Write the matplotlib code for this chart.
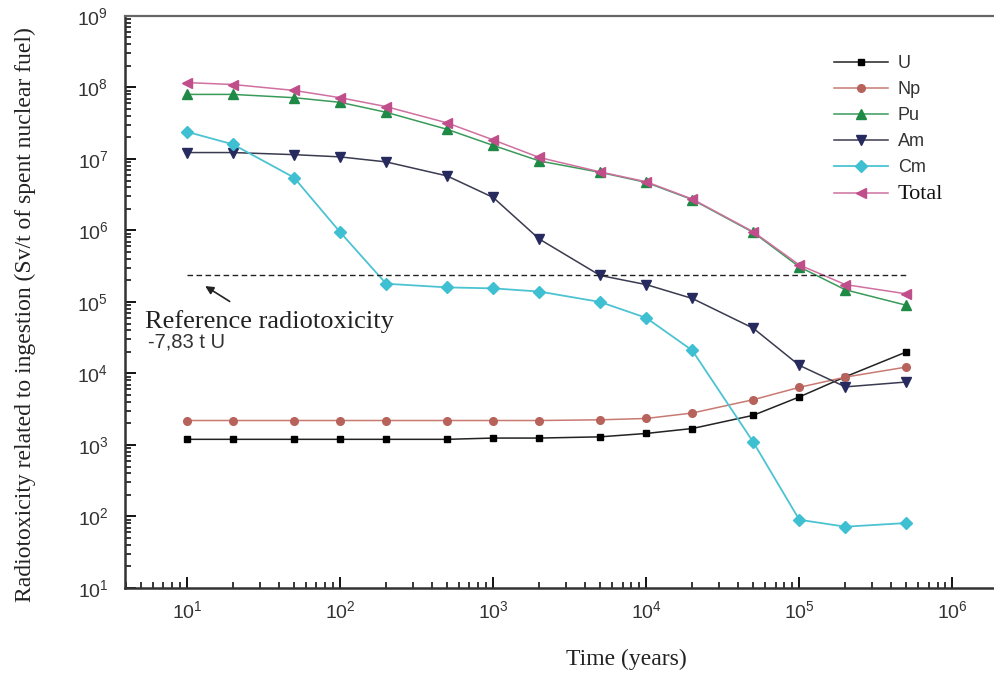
import numpy as np
import matplotlib
matplotlib.use("Agg")
import matplotlib.pyplot as plt
from matplotlib.ticker import LogLocator, NullFormatter

plt.rcParams['font.family'] = ['Liberation Sans', 'DejaVu Sans']
plt.rcParams['mathtext.default'] = 'regular'

# ---- data ----
time_years = [10, 20, 50, 100, 200, 500, 1e3, 2e3, 5e3, 1e4, 2e4, 5e4, 1e5, 2e5, 5e5]
u_vals = [1.2e3, 1.2e3, 1.2e3, 1.2e3, 1.2e3, 1.2e3, 1.25e3, 1.25e3, 1.3e3, 1.45e3, 1.7e3, 2.6e3, 4.7e3, 9.0e3, 2.0e4]
np_vals = [2.2e3, 2.2e3, 2.2e3, 2.2e3, 2.2e3, 2.2e3, 2.2e3, 2.2e3, 2.25e3, 2.35e3, 2.8e3, 4.3e3, 6.4e3, 8.9e3, 1.23e4]
pu_vals = [8.0e7, 8.0e7, 7.2e7, 6.2e7, 4.5e7, 2.6e7, 1.55e7, 9.4e6, 6.5e6, 4.7e6, 2.7e6, 9.4e5, 3.1e5, 1.48e5, 9.0e4]
am_vals = [1.23e7, 1.23e7, 1.15e7, 1.07e7, 9.1e6, 5.8e6, 2.9e6, 7.6e5, 2.35e5, 1.75e5, 1.12e5, 4.3e4, 1.3e4, 6.5e3, 7.6e3]
cm_vals = [2.4e7, 1.6e7, 5.5e6, 9.5e5, 1.8e5, 1.6e5, 1.55e5, 1.4e5, 1.0e5, 6.0e4, 2.1e4, 1.1e3, 90, 72, 81]
total_vals = [1.17e8, 1.1e8, 9.1e7, 7.2e7, 5.4e7, 3.2e7, 1.85e7, 1.05e7, 6.6e6, 4.8e6, 2.75e6, 9.6e5, 3.3e5, 1.75e5, 1.3e5]

ref_level = 2.35e5
ref_span = [10, 5e5]

fig = plt.figure(figsize=(9.94, 6.74), dpi=100)
ax = fig.add_axes([0.1258, 0.1276, 0.8742, 0.8487])

ax.plot(time_years, u_vals, color="#222222", lw=1.1, marker="s", ms=5, mfc="black", mec="black", label="U")
ax.plot(time_years, np_vals, color="#c87a72", lw=1.1, marker="o", ms=5.5, mfc="#b8625c", mec="#b8625c", label="Np")
ax.plot(time_years, pu_vals, color="#3a9a5a", lw=1.1, marker="^", ms=7, mfc="#1f8a45", mec="#1f8a45", label="Pu")
ax.plot(time_years, am_vals, color="#3a3a50", lw=1.1, marker="v", ms=7.5, mfc="#262a5e", mec="#262a5e", label="Am")
ax.plot(time_years, cm_vals, color="#4cc3d2", lw=1.3, marker="D", ms=6.5, mfc="#3fc0d2", mec="#3fc0d2", label="Cm")
ax.plot(time_years, total_vals, color="#d070a0", lw=1.1, marker="<", ms=7.5, mfc="#c04e8a", mec="#c04e8a", label="Total")

ax.plot(ref_span, [ref_level, ref_level], color="#222222", lw=1.0, ls=(0, (4, 2.5)))

ax.annotate("", xy=(12.7, 1.75e5), xytext=(19.7, 9.7e4),
            arrowprops=dict(arrowstyle="-|>", color="#222222", lw=1.2, mutation_scale=12))
ax.text(0.023, 0.465, "Reference radiotoxicity", transform=ax.transAxes,
        fontsize=19, family="Liberation Serif", color="#222222", va="center")
ax.text(0.026, 0.43, "-7,83 t U", transform=ax.transAxes,
        fontsize=14.5, color="#333333", va="center")

ax.set_xscale("log")
ax.set_yscale("log")
ax.set_xlim(3.94, 1.87e6)
ax.set_ylim(10, 1e9)

ax.xaxis.set_major_locator(LogLocator(base=10, numticks=10))
ax.xaxis.set_minor_locator(LogLocator(base=10, subs=np.arange(2, 10), numticks=10))
ax.yaxis.set_major_locator(LogLocator(base=10, numticks=12))
ax.yaxis.set_minor_locator(LogLocator(base=10, subs=np.arange(2, 10), numticks=12))
ax.xaxis.set_minor_formatter(NullFormatter())
ax.yaxis.set_minor_formatter(NullFormatter())

ax.tick_params(axis="both", which="major", direction="in", length=8, width=1.3, labelsize=14, labelcolor="#333333")
ax.tick_params(axis="both", which="minor", direction="in", length=4.5, width=1.1)
ax.tick_params(axis="y", which="major", pad=12)
ax.tick_params(axis="x", which="major", pad=9)

ax.spines["right"].set_visible(False)
for s in ["left", "bottom"]:
    ax.spines[s].set_linewidth(1.8)
    ax.spines[s].set_color("#333333")
ax.spines["top"].set_linewidth(1.6)
ax.spines["top"].set_color("#666666")

ax.set_xlabel("Time (years)", fontsize=17, family="Liberation Serif", color="#222222")
ax.xaxis.set_label_coords(0.577, -0.107)
ax.set_ylabel("Radiotoxicity related to ingestion (Sv/t of spent nuclear fuel)", fontsize=17,
              family="Liberation Serif", color="#222222")
ax.yaxis.set_label_coords(-0.102, 0.478)

leg = ax.legend(loc="upper left", bbox_to_anchor=(0.797, 0.96), frameon=False, fontsize=13,
                handlelength=3.0, handletextpad=0.55, labelspacing=0.5, numpoints=1)
for txt in leg.get_texts():
    txt.set_color("#333333")
leg.get_texts()[-1].set_family("Liberation Serif")
leg.get_texts()[-1].set_fontsize(16)
leg.get_texts()[-1].set_color("#111111")

fig.savefig("out.png", dpi=100)
